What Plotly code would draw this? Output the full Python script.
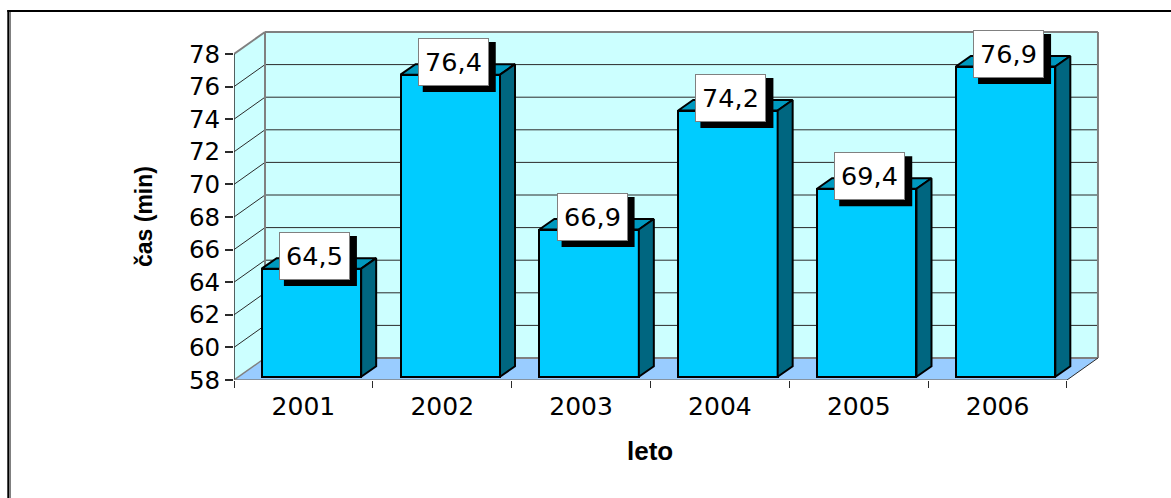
import plotly.graph_objects as go

# Chart data
years = ["2001", "2002", "2003", "2004", "2005", "2006"]
minutes = [64.5, 76.4, 66.9, 74.2, 69.4, 76.9]
y_ticks = [58, 60, 62, 64, 66, 68, 70, 72, 74, 76, 78]
x_title = "leto"
y_title = "čas (min)"

WIDTH, HEIGHT = 1171, 498
NUM_FONT = "DejaVu Sans, Arial, sans-serif"
TITLE_FONT = "Liberation Sans, Arial, sans-serif"

# Pixel scale of the front plane and the oblique depth projection
LEFT, BOTTOM = 234, 380
UNIT_X, UNIT_Y = 138.83, 16.3
RIGHT, TOP = 1102, 28
xmin, ymin = 0.5, min(y_ticks)
xmax = xmin + (RIGHT - LEFT) / UNIT_X
ymax = ymin + (BOTTOM - TOP) / UNIT_Y
xfront = xmin + len(years)
yfront = max(y_ticks)
DEPTH_X, DEPTH_Y = 31 / UNIT_X, 22 / UNIT_Y          # wall depth
BAR_DX, BAR_DY = 15 / UNIT_X, 10.5 / UNIT_Y          # column depth
BAR_WIDTH = 99.5 / UNIT_X
BAR_SHIFT = 8 / UNIT_X
BASE_LIFT, TOP_LIFT = 3.3 / UNIT_Y, 5.4 / UNIT_Y

CYAN_WALL, FLOOR = "#CCFFFF", "#99CCFF"
FRONT, ROOF, SIDE = "#00CCFF", "#0099BF", "#006680"
GRAY, DARK = "#808080", "#2b2b2b"


def poly(points, fill, line=None, width=0, layer="below"):
    path = "M " + " L ".join(f"{x},{y}" for x, y in points) + " Z"
    return dict(type="path", path=path, xref="x", yref="y", fillcolor=fill, layer=layer,
                line=dict(color=line or fill, width=width))


def seg(x0, y0, x1, y1, color, width):
    return dict(type="line", x0=x0, y0=y0, x1=x1, y1=y1, xref="x", yref="y", layer="below",
                line=dict(color=color, width=width))


backx0, backx1 = xmin + DEPTH_X, xfront + DEPTH_X
backy0, backy1 = ymin + DEPTH_Y, yfront + DEPTH_Y

shapes = [
    # Walls and floor of the 3D box
    poly([(xmin, ymin), (backx0, backy0), (backx0, backy1), (xmin, yfront)], CYAN_WALL),
    poly([(backx0, backy0), (backx1, backy0), (backx1, backy1), (backx0, backy1)], CYAN_WALL),
    poly([(xmin, ymin), (xfront, ymin), (backx1, backy0), (backx0, backy0)], FLOOR),
]
# Gridlines run along the side wall and across the back wall
for v in y_ticks[1:-1]:
    shapes.append(seg(xmin, v, backx0, v + DEPTH_Y, DARK, 1))
    shapes.append(seg(backx0, v + DEPTH_Y, backx1, v + DEPTH_Y, DARK, 1))
shapes += [
    seg(xmin, ymin, backx0, backy0, GRAY, 1.5),
    seg(xmin, yfront, backx0, backy1, GRAY, 2),
    seg(backx0, backy0, backx0, backy1, GRAY, 2),
    seg(backx0, backy1, backx1, backy1, GRAY, 2),
    seg(backx1, backy0, backx1, backy1, GRAY, 2),
    seg(backx0, backy0, backx1, backy0, GRAY, 2),
    seg(xfront, ymin, backx1, backy0, DARK, 1),
]

# Drop shadows behind the value labels, sized in pixels and anchored on each value
LABEL_DX, LABEL_DY = 11, 18
LABEL_W, LABEL_H = 71, 48
for i, v in enumerate(minutes):
    shapes.append(dict(
        type="rect", layer="above", xref="x", yref="y",
        xsizemode="pixel", ysizemode="pixel", xanchor=i + 1, yanchor=v,
        x0=LABEL_DX - LABEL_W / 2 + 5, x1=LABEL_DX + LABEL_W / 2 + 7,
        y0=LABEL_DY - LABEL_H / 2 - 6, y1=LABEL_DY + LABEL_H / 2 - 4,
        fillcolor="black", line=dict(width=0),
    ))

# Outer frame: only the top and left edges are drawn
def px(x):
    return (x - LEFT) / (RIGHT - LEFT)


def py(y):
    return (BOTTOM - y) / (BOTTOM - TOP)


for x0, y0, x1, y1, color in [(9, 12, 11, HEIGHT, GRAY), (7.3, 10, WIDTH, 12, "black"),
                              (7.3, 10, 9, HEIGHT, "black")]:
    shapes.append(dict(type="rect", xref="paper", yref="paper", layer="above",
                       x0=px(x0), x1=px(x1), y0=py(y0), y1=py(y1),
                       fillcolor=color, line=dict(width=0)))

fig = go.Figure()

# Front faces of the columns
centers = [i + 1 + BAR_SHIFT for i in range(len(years))]
base = ymin + BASE_LIFT
fig.add_trace(go.Bar(
    x=centers, y=[v + TOP_LIFT - base for v in minutes], base=base, width=BAR_WIDTH,
    marker=dict(color=FRONT, line=dict(color="black", width=2)),
    hoverinfo="skip", showlegend=False,
))

# Roof and side faces of the columns
for c, v in zip(centers, minutes):
    xl, xr = c - BAR_WIDTH / 2, c + BAR_WIDTH / 2
    yt = v + TOP_LIFT
    fig.add_trace(go.Scatter(
        x=[xl, xr, xr + BAR_DX, xl + BAR_DX, xl], y=[yt, yt, yt + BAR_DY, yt + BAR_DY, yt],
        mode="lines", fill="toself", fillcolor=ROOF, line=dict(color="black", width=2),
        hoverinfo="skip", showlegend=False,
    ))
    fig.add_trace(go.Scatter(
        x=[xr, xr + BAR_DX, xr + BAR_DX, xr, xr],
        y=[base, base + BAR_DY, yt + BAR_DY, yt, base],
        mode="lines", fill="toself", fillcolor=SIDE, line=dict(color="black", width=2),
        hoverinfo="skip", showlegend=False,
    ))

# Axis lines of the front plane, allowed to straddle the plot edge
fig.add_trace(go.Scatter(x=[xmin, xmin], y=[ymin, yfront], mode="lines", cliponaxis=False,
                         line=dict(color=DARK, width=1.5), hoverinfo="skip", showlegend=False))
fig.add_trace(go.Scatter(x=[xmin, xfront], y=[ymin, ymin], mode="lines", cliponaxis=False,
                         line=dict(color=GRAY, width=1.5), hoverinfo="skip", showlegend=False))

# Value labels
annotations = [
    dict(x=i + 1, y=v, xref="x", yref="y", text=f"{v:.1f}".replace(".", ","), showarrow=False,
         xshift=LABEL_DX, yshift=LABEL_DY, width=LABEL_W - 2, height=LABEL_H - 2,
         bgcolor="white", bordercolor=GRAY, borderwidth=1, borderpad=0, align="center", valign="middle",
         font=dict(family=NUM_FONT, size=25.5, color="black"))
    for i, v in enumerate(minutes)
]

# Axis titles are centred on the front plane rather than on the whole plotting box
annotations += [
    dict(x=(xmin + xfront) / 2, y=ymin, xref="x", yref="y", text=f"<b>{x_title}</b>", showarrow=False,
         yshift=-71, font=dict(family=TITLE_FONT, size=26, color="black")),
    dict(x=xmin, y=(ymin + yfront) / 2, xref="x", yref="y", text=f"<b>{y_title}</b>", showarrow=False,
         textangle=-90, xshift=-90, font=dict(family=TITLE_FONT, size=23, color="black")),
]

fig.update_layout(
    width=WIDTH, height=HEIGHT, autosize=False,
    margin=dict(l=LEFT, r=WIDTH - RIGHT, t=TOP, b=HEIGHT - BOTTOM, pad=0),
    paper_bgcolor="white", plot_bgcolor="white", showlegend=False,
    shapes=shapes, annotations=annotations, bargap=0,
    font=dict(family=NUM_FONT, color="black"),
    xaxis=dict(
        range=[xmin, xmax], showgrid=False, zeroline=False, showline=False,
        tickmode="array", tickvals=list(range(1, len(years) + 1)), ticktext=years,
        ticks="", tickfont=dict(size=25, color="black"), ticklabelstandoff=9,
        minor=dict(tickmode="array", tickvals=[xmin + k for k in range(len(years) + 1)],
                   ticks="outside", ticklen=7, tickwidth=1, tickcolor=DARK, showgrid=False),
    ),
    yaxis=dict(
        range=[ymin, ymax], showgrid=False, zeroline=False, showline=False,
        tickmode="array", tickvals=y_ticks, ticktext=[str(t) for t in y_ticks],
        ticks="outside", ticklen=8, tickwidth=1.5, tickcolor=DARK,
        tickfont=dict(size=24.5, color="black"),
    ),
)

fig.write_html("out.html", config={"displayModeBar": False})
